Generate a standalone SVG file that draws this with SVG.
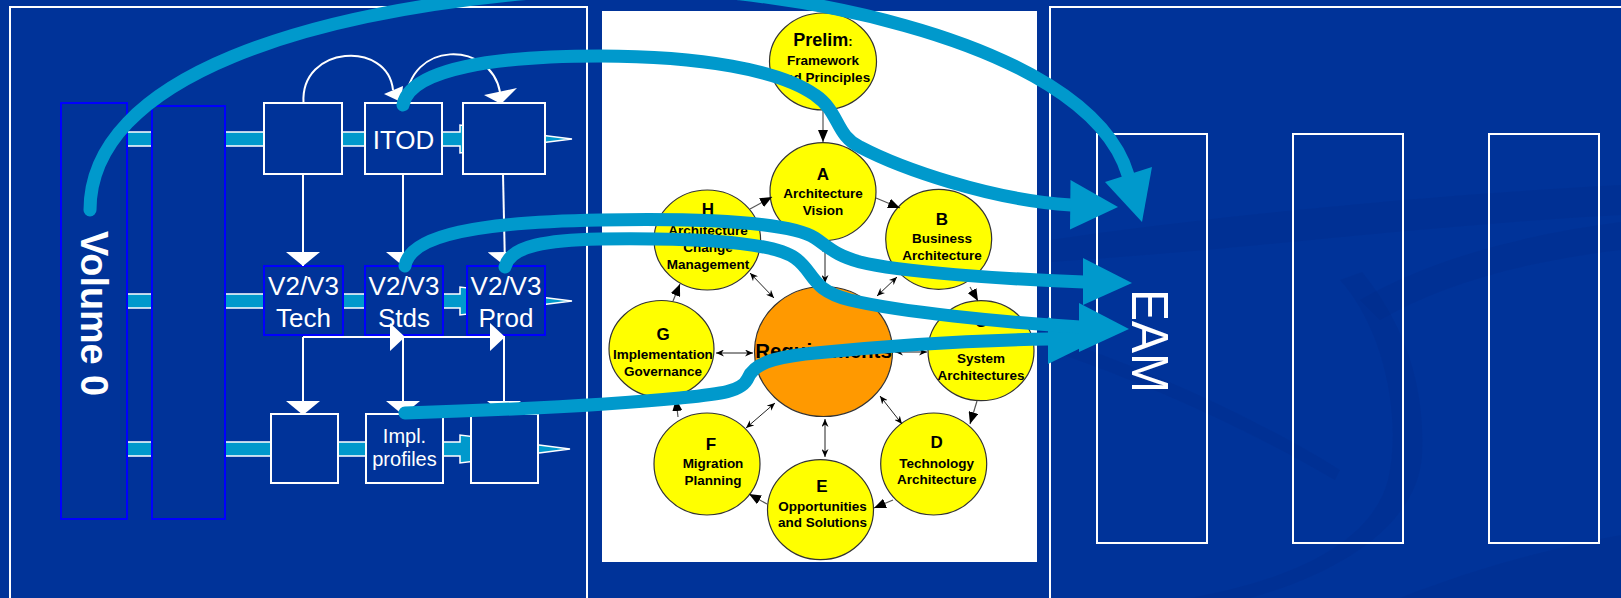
<svg xmlns="http://www.w3.org/2000/svg" width="1621" height="598" viewBox="0 0 1621 598">
  <defs>
    <style>
      .panel { fill: none; stroke: #ffffff; stroke-width: 2; }
      .lane { fill: #0099cc; stroke: #ffffff; stroke-width: 1.5; stroke-linejoin: miter; }
      .vol { fill: #003399; stroke: #0000ff; stroke-width: 2; }
      .wbox { fill: #003399; stroke: #ffffff; stroke-width: 2; }
      .bbox { fill: #003399; stroke: #0000ff; stroke-width: 2; }
      .wtxt { fill: #ffffff; font-family: "Liberation Sans", Arial, sans-serif; font-size: 26px; text-anchor: middle; }
      .stxt { font-size: 20px; }
      .wline { fill: none; stroke: #ffffff; stroke-width: 2; }
      .whead { fill: #ffffff; }
      .phase { fill: #ffff00; stroke: #333333; stroke-width: 1.2; }
      .req { fill: #ff9900; stroke: #333333; stroke-width: 1.2; }
      .lbl { fill: #000000; font-family: "Liberation Sans", Arial, sans-serif; font-weight: bold; font-size: 13.5px; text-anchor: middle; }
      .ltr { font-size: 17px; }
      .big { font-size: 20.5px; }
      .cyc { fill: none; stroke: #555555; stroke-width: 1.2; marker-end: url(#cycHead); }
      .dbl { fill: none; stroke: #222222; stroke-width: 1; marker-start: url(#dblHead); marker-end: url(#dblHead); }
      .flow { fill: none; stroke: #0099cc; stroke-width: 13; stroke-linecap: round; stroke-linejoin: round; }
      .fhead { fill: #0099cc; }
      .swoosh { fill: #002b84; opacity: 0.22; }
    </style>
    <marker id="cycHead" viewBox="0 0 12 10" refX="12" refY="5" markerWidth="12" markerHeight="10" markerUnits="userSpaceOnUse" orient="auto">
      <path d="M0,0 L12,5 L0,10 Z" fill="#000000"/>
    </marker>
    <marker id="dblHead" viewBox="0 0 8 7" refX="8" refY="3.5" markerWidth="8" markerHeight="7" markerUnits="userSpaceOnUse" orient="auto-start-reverse">
      <path d="M0,0 L8,3.5 L0,7 L2.5,3.5 Z" fill="#000000"/>
    </marker>
    <marker id="wHead" viewBox="0 0 14 34" refX="14" refY="17" markerWidth="14" markerHeight="34" markerUnits="userSpaceOnUse" orient="auto">
      <path d="M0,0 L14,17 L0,34 Z" fill="#ffffff"/>
    </marker>
    <marker id="wHeadSide" viewBox="0 0 15 28" refX="15" refY="14" markerWidth="15" markerHeight="28" markerUnits="userSpaceOnUse" orient="auto">
      <path d="M0,0 L15,14 L0,28 Z" fill="#ffffff"/>
    </marker>
  </defs>

  <!-- backdrop -->
  <rect x="0" y="0" width="1621" height="598" fill="#003399"/>
  <g id="backdrop-swooshes">
    <path class="swoosh" d="M1050,240 C1220,215 1430,195 1621,185 L1621,215 C1430,225 1240,250 1050,262 Z"/>
    <path class="swoosh" d="M1340,280 C1385,330 1402,420 1388,480 C1372,540 1300,578 1190,598 L1250,598 C1350,570 1418,520 1422,455 C1426,380 1400,318 1362,272 Z"/>
    <path class="swoosh" d="M1400,598 C1470,570 1550,548 1621,535 L1621,598 Z"/>
    <path class="swoosh" d="M1360,300 C1430,260 1520,235 1621,222 L1621,250 C1520,262 1440,285 1380,320 Z"/>
    <path class="swoosh" d="M1060,340 C1150,370 1260,420 1340,470 L1335,480 C1250,430 1150,385 1055,352 Z"/>
  </g>

  <!-- panels -->
  <rect id="panel-left" class="panel" x="10" y="7" width="577" height="620"/>
  <rect id="panel-centre" x="602" y="11" width="435" height="551" fill="#ffffff"/>
  <rect id="panel-right" class="panel" x="1050" y="7" width="620" height="620"/>

  <!-- lane arrows running behind the left-hand boxes -->
  <g id="lane-arrows">
    <polygon class="lane" points="127,132 460,132 460,125 572,139 460,153 460,146 127,146"/>
    <polygon class="lane" points="127,294 460,294 460,287 572,301 460,315 460,308 127,308"/>
    <polygon class="lane" points="127,442 460,442 460,435 570,449 460,463 460,456 127,456"/>
  </g>

  <!-- left panel nodes -->
  <g id="volume0">
    <rect class="vol" x="61" y="103" width="66" height="416"/>
    <text transform="translate(81,231) rotate(90)" x="0" y="0" fill="#ffffff" font-family="Liberation Sans, Arial, sans-serif" font-weight="bold" font-size="39" textLength="165" lengthAdjust="spacingAndGlyphs">Volume 0</text>
  </g>
  <g id="volume-bar2"><rect class="vol" x="152" y="106" width="73" height="413"/></g>

  <g id="r1-box1"><rect class="wbox" x="264" y="103" width="78" height="71"/></g>
  <g id="r1-itod"><rect class="wbox" x="365" y="103" width="77" height="71"/><text class="wtxt" x="403.5" y="149">ITOD</text></g>
  <g id="r1-box3"><rect class="wbox" x="463" y="103" width="82" height="71"/></g>

  <g id="r2-tech"><rect class="bbox" x="264" y="266" width="79" height="69"/><text class="wtxt" x="303.5" y="295">V2/V3</text><text class="wtxt" x="303.5" y="327">Tech</text></g>
  <g id="r2-stds"><rect class="bbox" x="365" y="266" width="78" height="69"/><text class="wtxt" x="404" y="295">V2/V3</text><text class="wtxt" x="404" y="327">Stds</text></g>
  <g id="r2-prod"><rect class="bbox" x="467" y="266" width="78" height="69"/><text class="wtxt" x="506" y="295">V2/V3</text><text class="wtxt" x="506" y="327">Prod</text></g>

  <g id="r3-box1"><rect class="wbox" x="271" y="414" width="67" height="69"/></g>
  <g id="r3-impl"><rect class="wbox" x="366" y="414" width="77" height="69"/><text class="wtxt stxt" x="404.5" y="443">Impl.</text><text class="wtxt stxt" x="404.5" y="466">profiles</text></g>
  <g id="r3-box3"><rect class="wbox" x="471" y="414" width="67" height="69"/></g>

  <!-- ADM cycle -->
  <g id="adm-prelim"><ellipse class="phase" cx="823" cy="61.5" rx="53.5" ry="48.5"/>
    <text class="lbl" x="823" y="46"><tspan font-size="18">Prelim</tspan><tspan font-size="13">:</tspan></text>
    <text class="lbl" x="823" y="65">Framework</text>
    <text class="lbl" x="824" y="81.5">and Principles</text></g>
  <g id="adm-a"><ellipse class="phase" cx="823" cy="191.7" rx="53" ry="49"/>
    <text class="lbl ltr" x="823" y="180">A</text>
    <text class="lbl" x="823" y="198.3">Architecture</text>
    <text class="lbl" x="823" y="215">Vision</text></g>
  <g id="adm-b"><ellipse class="phase" cx="938.7" cy="239.3" rx="53" ry="50"/>
    <text class="lbl ltr" x="942" y="225">B</text>
    <text class="lbl" x="942" y="243.3">Business</text>
    <text class="lbl" x="942" y="260">Architecture</text></g>
  <g id="adm-h"><ellipse class="phase" cx="707.3" cy="240" rx="53.3" ry="50"/>
    <text class="lbl ltr" x="708" y="215">H</text>
    <text class="lbl" x="708" y="235">Architecture</text>
    <text class="lbl" x="708" y="252.3">Change</text>
    <text class="lbl" x="708" y="269.3">Management</text></g>
  <g id="adm-requirements"><ellipse class="req" cx="823.5" cy="351.5" rx="69" ry="65"/>
    <text class="lbl big" x="823.5" y="358">Requirements</text></g>
  <g id="adm-g"><ellipse class="phase" cx="661.5" cy="349" rx="52.5" ry="48.5"/>
    <text class="lbl ltr" x="663" y="340">G</text>
    <text class="lbl" x="663" y="359">Implementation</text>
    <text class="lbl" x="663" y="376">Governance</text></g>
  <g id="adm-c"><ellipse class="phase" cx="981" cy="350.7" rx="53" ry="50"/>
    <text class="lbl ltr" x="981" y="327">C</text>
    <text class="lbl" x="981" y="346">Information</text>
    <text class="lbl" x="981" y="363">System</text>
    <text class="lbl" x="981" y="380">Architectures</text></g>
  <g id="adm-f"><ellipse class="phase" cx="707" cy="464" rx="53" ry="51"/>
    <text class="lbl ltr" x="711" y="450">F</text>
    <text class="lbl" x="713" y="468">Migration</text>
    <text class="lbl" x="713" y="485">Planning</text></g>
  <g id="adm-d"><ellipse class="phase" cx="933.7" cy="464" rx="53" ry="51"/>
    <text class="lbl ltr" x="936.7" y="448">D</text>
    <text class="lbl" x="936.7" y="467.5">Technology</text>
    <text class="lbl" x="936.7" y="484">Architecture</text></g>
  <g id="adm-e"><ellipse class="phase" cx="820.5" cy="509.7" rx="53" ry="50"/>
    <text class="lbl ltr" x="822" y="491.7">E</text>
    <text class="lbl" x="822.5" y="510.7">Opportunities</text>
    <text class="lbl" x="822.5" y="527.3">and Solutions</text></g>

  <!-- right panel columns -->
  <g id="col-eam"><rect class="panel" x="1097" y="134" width="110" height="409"/>
    <text transform="translate(1132,289) rotate(90)" x="0" y="0" fill="#ffffff" font-family="Liberation Sans, Arial, sans-serif" font-size="52" textLength="104" lengthAdjust="spacingAndGlyphs">EAM</text></g>
  <g id="col-2"><rect class="panel" x="1293" y="134" width="110" height="409"/></g>
  <g id="col-3"><rect class="panel" x="1489" y="134" width="110" height="409"/></g>

  <g id="connectors">
    <!-- left panel: ITOD loop arcs -->
    <path class="wline" d="M303.5,103 C300,45 388,40 393,90"/>
    <polygon class="whead" points="384,94 403,86 401,102"/>
    <path class="wline" d="M406,103 C408,40 490,40 500,92"/>
    <polygon class="whead" points="484,95 517,88 501,104"/>
    <!-- row 1 to row 2 -->
    <path class="wline" d="M303,174 V266" marker-end="url(#wHead)"/>
    <path class="wline" d="M403,174 V266" marker-end="url(#wHead)"/>
    <path class="wline" d="M503,174 L505,266" marker-end="url(#wHead)"/>
    <!-- row 2 to row 3 -->
    <path class="wline" d="M303,337 H405" marker-end="url(#wHeadSide)"/>
    <path class="wline" d="M403,337 H505" marker-end="url(#wHeadSide)"/>
    <path class="wline" d="M303,337 V415" marker-end="url(#wHead)"/>
    <path class="wline" d="M403,337 V415" marker-end="url(#wHead)"/>
    <path class="wline" d="M504,337 V415" marker-end="url(#wHead)"/>

    <!-- ADM cycle arrows -->
    <path class="cyc" d="M823,110 L823,142"/>
    <path class="cyc" d="M876,198 L900,208"/>
    <path class="cyc" d="M750,209 L772,197"/>
    <path class="cyc" d="M970,287 L978,301"/>
    <path class="cyc" d="M977,401 L970,424"/>
    <path class="cyc" d="M893,500 L874,508"/>
    <path class="cyc" d="M767,504 L749,494"/>
    <path class="cyc" d="M678,417 L676,399"/>
    <path class="cyc" d="M673,301 L680,284"/>
    <path class="dbl" d="M825,244 L825,283"/>
    <path class="dbl" d="M897,277 L877,296"/>
    <path class="dbl" d="M895,352 L927,352"/>
    <path class="dbl" d="M880,396 L902,424"/>
    <path class="dbl" d="M825,419 L825,457"/>
    <path class="dbl" d="M775,403 L746,428"/>
    <path class="dbl" d="M716,353 L753,353"/>
    <path class="dbl" d="M750,273 L774,298"/>

    <!-- flows into EAM -->
    <path class="flow" d="M90,210 C90,80 300,5 600,-12 C750,-20.5 1086,34 1128,175"/>
    <polygon class="fhead" points="1105,182 1152,167 1142,222"/>
    <path class="flow" d="M403,105 C410,68 500,56 600,56 C700,56 780,70 815,95 C840,112 835,135 860,147 C900,168 990,200 1071,205"/>
    <polygon class="fhead" points="1070.5,180 1070,229.5 1118,207"/>
    <path class="flow" d="M405,266 C410,235 480,222 600,220 C700,218 790,222 815,238 C830,248 835,255 860,262 C900,272 1000,279 1084,282"/>
    <polygon class="fhead" points="1083,258 1083,305 1132,283"/>
    <path class="flow" d="M405,413 C500,410 600,406 680,398 C720,394 742,392 748,378 C754,364 772,358 805,354 C900,344 980,340 1049,339"/>
    <polygon class="fhead" points="1048,317 1048,364 1097,340"/>
    <path class="flow" d="M505,267 C510,245 550,240 600,239 C680,238 770,240 795,258 C815,272 810,290 850,300 C900,312 1000,322 1080,327"/>
    <polygon class="fhead" points="1079,303 1079,352 1129,329"/>
  </g>
</svg>
